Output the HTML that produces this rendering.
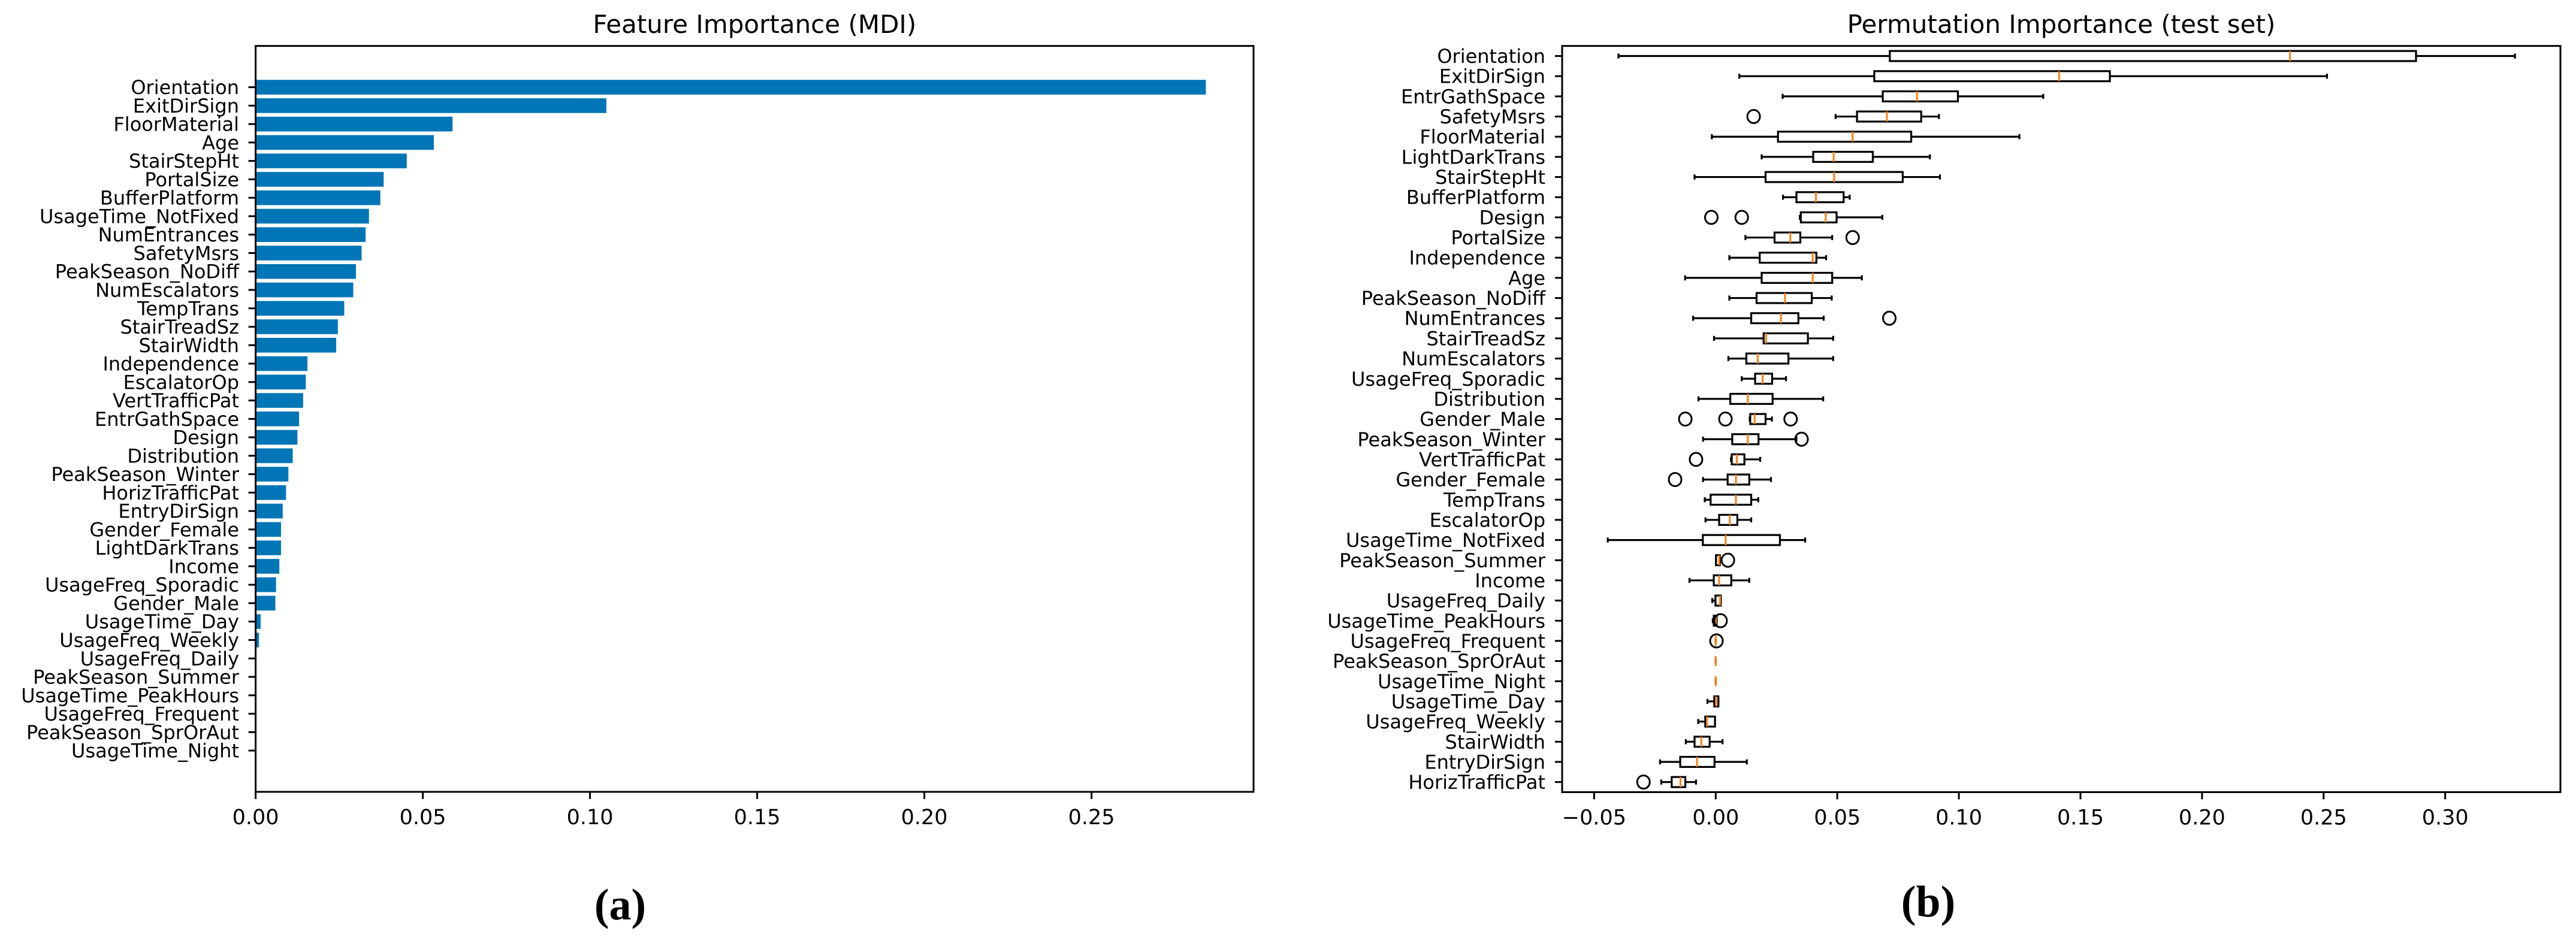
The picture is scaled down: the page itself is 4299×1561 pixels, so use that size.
<!DOCTYPE html>
<html><head><meta charset="utf-8">
<style>
html,body{margin:0;padding:0;background:#fff;}
svg{display:block;}
text{font-family:"DejaVu Sans","Liberation Sans",sans-serif;fill:#000;}
.cap{font-family:"Liberation Serif",serif;font-weight:bold;}
</style></head>
<body>
<svg id="fig" width="4299" height="1561" viewBox="0 0 4299 1561" xmlns="http://www.w3.org/2000/svg">
  <g id="panelA"></g>
  <g id="panelB"></g>
  <text class="cap" x="1035" y="1535" font-size="74" text-anchor="middle">(a)</text>
  <text class="cap" x="3218" y="1530" font-size="74" text-anchor="middle">(b)</text>
</svg>
<script>
// ---------- Panel A data ----------
const mdiFeatures = ["Orientation","ExitDirSign","FloorMaterial","Age","StairStepHt","PortalSize","BufferPlatform","UsageTime_NotFixed","NumEntrances","SafetyMsrs","PeakSeason_NoDiff","NumEscalators","TempTrans","StairTreadSz","StairWidth","Independence","EscalatorOp","VertTrafficPat","EntrGathSpace","Design","Distribution","PeakSeason_Winter","HorizTrafficPat","EntryDirSign","Gender_Female","LightDarkTrans","Income","UsageFreq_Sporadic","Gender_Male","UsageTime_Day","UsageFreq_Weekly","UsageFreq_Daily","PeakSeason_Summer","UsageTime_PeakHours","UsageFreq_Frequent","PeakSeason_SprOrAut","UsageTime_Night"];
const mdiValues = [0.2842,0.1049,0.0589,0.0533,0.0452,0.0383,0.0373,0.0339,0.0329,0.0317,0.0300,0.0292,0.0265,0.0246,0.0241,0.0155,0.0150,0.0142,0.0130,0.0125,0.0111,0.0098,0.0091,0.0081,0.0076,0.0076,0.0071,0.0061,0.0059,0.0015,0.0010,0,0,0,0,0,0];
const mdiTicks = [0.00,0.05,0.10,0.15,0.20,0.25];
const mdiTickLabels = ["0.00","0.05","0.10","0.15","0.20","0.25"];

// ---------- Panel B data ----------
const permFeatures = ["Orientation","ExitDirSign","EntrGathSpace","SafetyMsrs","FloorMaterial","LightDarkTrans","StairStepHt","BufferPlatform","Design","PortalSize","Independence","Age","PeakSeason_NoDiff","NumEntrances","StairTreadSz","NumEscalators","UsageFreq_Sporadic","Distribution","Gender_Male","PeakSeason_Winter","VertTrafficPat","Gender_Female","TempTrans","EscalatorOp","UsageTime_NotFixed","PeakSeason_Summer","Income","UsageFreq_Daily","UsageTime_PeakHours","UsageFreq_Frequent","PeakSeason_SprOrAut","UsageTime_Night","UsageTime_Day","UsageFreq_Weekly","StairWidth","EntryDirSign","HorizTrafficPat"];
const permWhiskLow = [-0.0400,0.0097,0.0275,0.0493,-0.0016,0.0189,-0.0087,0.0277,0.0346,0.0122,0.0056,-0.0126,0.0056,-0.0093,-0.0007,0.0052,0.0107,-0.0071,0.0140,-0.0052,0.0063,-0.0052,-0.0045,-0.0042,-0.0444,0.0001,-0.0108,-0.0014,-0.0012,0,0,0,-0.0034,-0.0072,-0.0123,-0.0229,-0.0224];
const permQ1 = [0.0716,0.0652,0.0687,0.0581,0.0256,0.0401,0.0205,0.0332,0.0350,0.0242,0.0181,0.0189,0.0168,0.0146,0.0197,0.0126,0.0162,0.0060,0.0142,0.0068,0.0066,0.0049,-0.0021,0.0014,-0.0053,0.0001,-0.0008,-0.0001,-0.0008,0,0,0,-0.0006,-0.0043,-0.0087,-0.0146,-0.0181];
const permMedian = [0.2362,0.1412,0.0828,0.0704,0.0563,0.0485,0.0487,0.0412,0.0452,0.0307,0.0399,0.0399,0.0285,0.0268,0.0207,0.0173,0.0193,0.0132,0.0160,0.0132,0.0087,0.0083,0.0083,0.0058,0.0041,0.0014,0.0014,0.0018,0.0001,0,0,0,0.0001,-0.0036,-0.0059,-0.0077,-0.0145];
const permQ3 = [0.2880,0.1621,0.0996,0.0845,0.0804,0.0646,0.0769,0.0526,0.0497,0.0348,0.0414,0.0479,0.0395,0.0340,0.0379,0.0299,0.0232,0.0234,0.0205,0.0176,0.0118,0.0138,0.0146,0.0089,0.0264,0.0017,0.0064,0.0021,0.0004,0,0,0,0.0011,-0.0003,-0.0025,-0.0005,-0.0125];
const permWhiskHigh = [0.3287,0.2514,0.1347,0.0918,0.1249,0.0881,0.0922,0.0551,0.0685,0.0479,0.0454,0.0601,0.0477,0.0444,0.0483,0.0483,0.0289,0.0442,0.0231,0.0332,0.0183,0.0227,0.0175,0.0146,0.0368,0.0017,0.0138,0.0021,0.0004,0,0,0,0.0011,-0.0003,0.0028,0.0128,-0.0081];
const permOutlierRow = [3,8,8,9,13,18,18,18,19,20,21,25,28,29,36];
const permOutlierVal = [0.0156,-0.0018,0.0107,0.0563,0.0714,-0.0125,0.0040,0.0308,0.0353,-0.0081,-0.0167,0.0050,0.0020,0.0003,-0.0297];
const permTicks = [-0.05,0.00,0.05,0.10,0.15,0.20,0.25,0.30];
const permTickLabels = ["\u22120.05","0.00","0.05","0.10","0.15","0.20","0.25","0.30"];

const NS = "http://www.w3.org/2000/svg";
function mk(parent, tag, attrs){
  const e = document.createElementNS(NS, tag);
  for (const k in attrs) e.setAttribute(k, attrs[k]);
  parent.appendChild(e);
  return e;
}

// ---------- Panel A ----------
(function(){
  const g = document.getElementById('panelA');
  const L = 426.6, R = 2092, T = 76.7, B = 1322;
  const n = mdiFeatures.length;
  const xmax = (R - L) / 5580;
  const xs = v => L + v / xmax * (R - L);
  const unit = (B - T) / (n - 1 + 0.8 + 2 * 0.05 * (n - 1 + 0.8));
  const pad = 0.4 + 0.05 * (n - 1 + 0.8);
  const ys = i => T + (pad + i) * unit;
  const bh = 0.8 * unit;

  const title = mk(g, 'text', {x: (L + R) / 2, y: 55, 'font-size': 42, 'text-anchor': 'middle'});
  title.textContent = 'Feature Importance (MDI)';
  
  

  mdiValues.forEach((v, i) => {
    const r = mk(g, 'rect', {x: L, y: ys(i) - bh / 2, width: Math.max(0, xs(v) - L), height: bh, fill: '#0076b6'});
    
    
    mk(g, 'line', {x1: L - 12, x2: L, y1: ys(i), y2: ys(i), stroke: '#000', 'stroke-width': 3});
    const t = mk(g, 'text', {x: 399, y: ys(i) + 11.5, 'font-size': 32, 'text-anchor': 'end'});
    t.textContent = mdiFeatures[i];
    
    
  });

  mdiTicks.forEach((v, i) => {
    mk(g, 'line', {x1: xs(v), x2: xs(v), y1: B, y2: B + 12, stroke: '#000', 'stroke-width': 3});
    const t = mk(g, 'text', {x: xs(v), y: B + 54, 'font-size': 35, 'text-anchor': 'middle'});
    t.textContent = mdiTickLabels[i];
    
    
  });

  const frame = mk(g, 'rect', {x: L, y: T, width: R - L, height: B - T, fill: 'none', stroke: '#000', 'stroke-width': 3});
  
  
})();

// ---------- Panel B ----------
(function(){
  const g = document.getElementById('panelB');
  const L = 2607, R = 4273, T = 76.7, B = 1322.5;
  const n = permFeatures.length;
  const x0 = 2863.3, pxPerUnit = 4058;
  const xs = v => x0 + v * pxPerUnit;
  const unit = (B - T) / n;
  const ys = i => T + (i + 0.5) * unit;
  const bh = 0.5 * unit, cap = 0.25 * unit;

  const title = mk(g, 'text', {x: (L + R) / 2, y: 55, 'font-size': 42, 'text-anchor': 'middle'});
  title.textContent = 'Permutation Importance (test set)';
  
  

  for (let i = 0; i < n; i++) {
    const y = ys(i);
    mk(g, 'line', {x1: L - 12, x2: L, y1: y, y2: y, stroke: '#000', 'stroke-width': 3});
    const t = mk(g, 'text', {x: 2579, y: y + 11.5, 'font-size': 32, 'text-anchor': 'end'});
    t.textContent = permFeatures[i];
    
    

    const bx = mk(g, 'g', {});
    
    
    const lo = xs(permWhiskLow[i]), q1 = xs(permQ1[i]), md = xs(permMedian[i]), q3 = xs(permQ3[i]), hi = xs(permWhiskHigh[i]);
    mk(bx, 'line', {x1: lo, x2: q1, y1: y, y2: y, stroke: '#000', 'stroke-width': 3.2});
    mk(bx, 'line', {x1: q3, x2: hi, y1: y, y2: y, stroke: '#000', 'stroke-width': 3.2});
    mk(bx, 'line', {x1: lo, x2: lo, y1: y - cap / 2, y2: y + cap / 2, stroke: '#000', 'stroke-width': 3.2});
    mk(bx, 'line', {x1: hi, x2: hi, y1: y - cap / 2, y2: y + cap / 2, stroke: '#000', 'stroke-width': 3.2});
    mk(bx, 'rect', {x: q1, y: y - bh / 2, width: Math.max(0, q3 - q1), height: bh, fill: 'none', stroke: '#000', 'stroke-width': 3.2});
    mk(bx, 'line', {x1: md, x2: md, y1: y - bh / 2, y2: y + bh / 2, stroke: '#ff7f0e', 'stroke-width': 3});
  }

  permOutlierRow.forEach((r, k) => {
    const c = mk(g, 'ellipse', {cx: xs(permOutlierVal[k]), cy: ys(r), rx: 10.5, ry: 11, fill: 'none', stroke: '#000', 'stroke-width': 3});
    
    
  });

  permTicks.forEach((v, i) => {
    mk(g, 'line', {x1: xs(v), x2: xs(v), y1: B, y2: B + 12, stroke: '#000', 'stroke-width': 3});
    const t = mk(g, 'text', {x: xs(v), y: B + 54, 'font-size': 35, 'text-anchor': 'middle'});
    t.textContent = permTickLabels[i];
    
    
  });

  const frame = mk(g, 'rect', {x: L, y: T, width: R - L, height: B - T, fill: 'none', stroke: '#000', 'stroke-width': 3});
  
  
})();
</script>
</body></html>
